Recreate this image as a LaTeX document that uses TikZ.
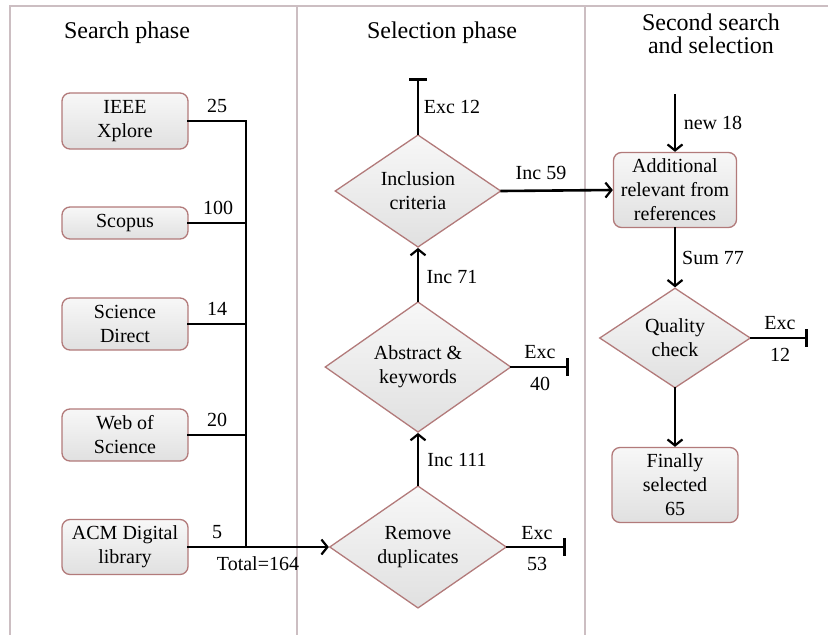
\documentclass[tikz,border=0pt]{standalone}
\usepackage{fontspec}
\setmainfont{Liberation Serif}
\usetikzlibrary{arrows.meta,shapes.geometric}
\definecolor{framecol}{RGB}{204,190,194}
\definecolor{edgecol}{RGB}{178,122,122}
\begin{document}
\begin{tikzpicture}[x=1pt,y=-1pt,
  every node/.style={font=\fontsize{20}{24}\selectfont},
  heading/.style={font=\fontsize{24}{23}\selectfont,align=center},
  framel/.style={draw=framecol,line width=1.2pt},
  srcbox/.style={draw=edgecol,line width=1.3pt,rounded corners=8pt,
    top color=black!3,bottom color=black!12,align=center,inner sep=0pt,
    minimum width=126pt},
  decision/.style={diamond,draw=edgecol,line width=1.3pt,
    top color=black!3,bottom color=black!12,align=center,inner sep=0pt},
  conn/.style={line width=2.6pt,line cap=rect},
  arr/.style={conn,-{Straight Barb[length=6pt,width=15pt,line width=2.2pt]}},
  stop/.style={conn,-{Bar[width=18pt,line width=2.6pt]}},
  lbl/.style={inner sep=0pt}]
\useasboundingbox (0,0) rectangle (828,635);

% column frame
\draw[framel] (10,635) -- (10,6) -- (828,6);
\draw[framel] (297,6) -- (297,635);
\draw[framel] (585,6) -- (585,635);

% column headings
\node[heading] (h1) at (127,33) {Search phase};
\node[heading] (h2) at (442,33) {Selection phase};
\node[heading] (h3) at (711,34) {Second search\\and selection};

% search sources
\node[srcbox,minimum height=56pt] (ieee) at (125,121) {IEEE\\Xplore};
\node[srcbox,minimum height=32pt] (scopus) at (125,223) {Scopus};
\node[srcbox,minimum height=52pt] (sd) at (125,324) {Science\\Direct};
\node[srcbox,minimum height=52pt] (wos) at (125,435) {Web of\\Science};
\node[srcbox,minimum height=55pt] (acm) at (125,547) {ACM Digital\\library};

% selection decisions
\node[decision,minimum width=166pt,minimum height=110pt] (ic) at (418,191) {Inclusion\\criteria};
\node[decision,minimum width=186pt,minimum height=121pt] (ak) at (418,367) {Abstract \&\\keywords};
\node[decision,minimum width=177pt,minimum height=118pt] (rd) at (418,547) {Remove\\duplicates};

% second search and selection
\node[srcbox,minimum width=123pt,minimum height=75pt] (add) at (675,190) {Additional\\relevant from\\references};
\node[decision,minimum width=151pt,minimum height=100pt] (qc) at (675,338) {Quality\\check};
\node[srcbox,minimum height=75pt] (fin) at (675,485) {Finally\\selected\\65};

% merging trunk
\coordinate (j1) at (246,121);
\coordinate (j2) at (246,223);
\coordinate (j3) at (246,324);
\coordinate (j4) at (246,435);
\coordinate (j5) at (246,547);
\draw[conn] (ieee.east) -- (j1) -- (j5);
\draw[conn] (scopus.east) -- (j2);
\draw[conn] (sd.east) -- (j3);
\draw[conn] (wos.east) -- (j4);
\draw[arr] (acm.east) -- (rd.west);

\node[lbl] (n25) at (217,106) {25};
\node[lbl] (n100) at (218,208) {100};
\node[lbl] (n14) at (217,309) {14};
\node[lbl] (n20) at (217,420) {20};
\node[lbl] (n5) at (217,532) {5};
\node[lbl] (tot) at (258,564) {Total=164};

% selection flow
\coordinate (e12) at (418,78);
\coordinate (e40) at (569,367);
\coordinate (e53) at (566,547);
\draw[arr] (rd.north) -- (ak.south);
\draw[arr] (ak.north) -- (ic.south);
\draw[stop] (ic.north) -- (e12);
\draw[stop] (ak.east) -- (e40);
\draw[stop] (rd.east) -- (e53);
\draw[arr] (ic.east) -- (add.west);

\node[lbl] (i111) at (457,460) {Inc 111};
\node[lbl] (i71) at (452,277) {Inc 71};
\node[lbl] (x12) at (452,107) {Exc 12};
\node[lbl] (i59) at (541,173) {Inc 59};
\node[lbl] (x40a) at (540,352) {Exc};
\node[lbl] (x40b) at (540,384) {40};
\node[lbl] (x53a) at (537,533) {Exc};
\node[lbl] (x53b) at (537,564) {53};

% second search flow
\coordinate (newin) at (675,95);
\coordinate (e12b) at (808,338);
\draw[arr] (newin) -- (add.north);
\draw[arr] (add.south) -- (qc.north);
\draw[stop] (qc.east) -- (e12b);
\draw[arr] (qc.south) -- (fin.north);

\node[lbl] (n18) at (713,123) {new 18};
\node[lbl] (s77) at (713,258) {Sum 77};
\node[lbl] (x12a) at (780,323) {Exc};
\node[lbl] (x12b) at (780,355) {12};
\end{tikzpicture}
\end{document}
